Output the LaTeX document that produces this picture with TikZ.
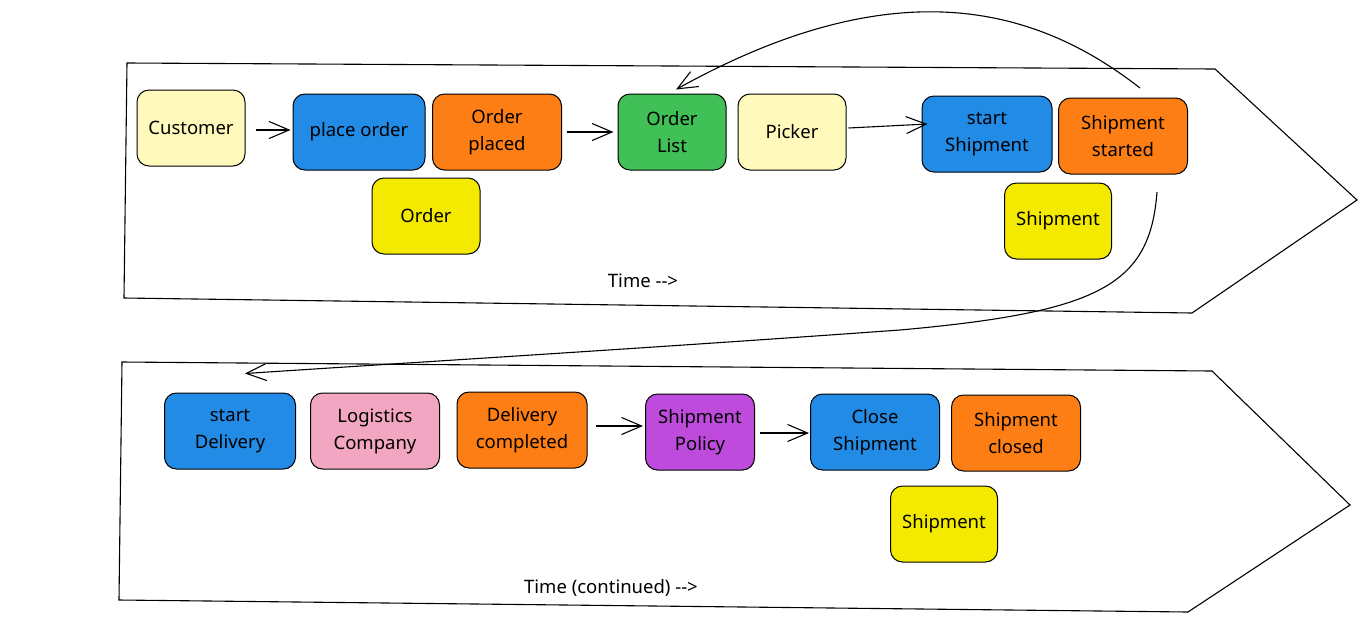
\documentclass[tikz,border=0pt]{standalone}
\usepackage{fontspec}
\setmainfont{Noto Sans}
\usetikzlibrary{arrows.meta,calc}
\definecolor{lyel}{HTML}{FFF9BB}
\definecolor{eblue}{HTML}{228BE6}
\definecolor{eorange}{HTML}{FD7E14}
\definecolor{eyel}{HTML}{F4EA00}
\definecolor{egreen}{HTML}{40C057}
\definecolor{epink}{HTML}{F3A6C1}
\definecolor{epurple}{HTML}{BE4BDB}
\newcommand{\dasharrowtext}{\mbox{-}\mbox{-}\mbox{>}}
\tikzset{
  card/.style={draw=black, line width=1pt, rounded corners=12pt, align=center,
    font=\fontsize{18.5}{27}\selectfont, inner sep=1pt},
  wide/.style={card, minimum width=130pt, minimum height=76pt},
  narrow/.style={card, minimum width=108pt, minimum height=76pt},
  lane/.style={draw=black, line width=1.1pt, line join=miter},
  flow/.style={draw=black, line width=1.1pt, -{Straight Barb[length=20pt,width=17pt,line width=1.1pt]}},
  lbl/.style={font=\fontsize{18.5}{22}\selectfont},
}
\begin{document}
\begin{tikzpicture}[x=1pt,y=-1pt]
\useasboundingbox (0,0) rectangle (1366,625);
% lanes
\draw[lane] (127,63) -- (1215,69) -- (1357,200) -- (1192,313) -- (124,298) -- cycle;
\draw[lane] (122,362) -- (1212,371) -- (1350,505) -- (1188,612) -- (119,600) -- cycle;
% top row
\node[narrow, fill=lyel] (cust) at (191,128) {Customer};
\node[wide, fill=eblue, minimum width=132pt] (place) at (359,132) {place order};
\node[wide, fill=eorange, minimum width=129pt] (oplaced) at (497,132) {Order\\placed};
\node[narrow, fill=eyel] (order) at (426,216) {Order};
\node[narrow, fill=egreen] (olist) at (672,132) {Order\\List};
\node[narrow, fill=lyel] (picker) at (792,132) {Picker};
\node[wide, fill=eblue] (sship) at (987,134) {start\\Shipment};
\node[wide, fill=eorange, minimum width=129pt] (sstart) at (1123,136) {Shipment\\started};
\node[narrow, fill=eyel, minimum width=107pt] (ship1) at (1058,221) {Shipment};
\node[lbl] (time1) at (643,281) {Time \dasharrowtext};
% bottom row
\node[wide, fill=eblue, minimum width=131pt] (sdeliv) at (230,431) {start\\Delivery};
\node[wide, fill=epink, minimum width=129pt] (logi) at (375,431) {Logistics\\Company};
\node[wide, fill=eorange] (dcomp) at (522,430) {Delivery\\completed};
\node[narrow, fill=epurple, minimum width=109pt] (spol) at (700,432) {Shipment\\Policy};
\node[wide, fill=eblue, minimum width=129pt] (cship) at (875,432) {Close\\Shipment};
\node[wide, fill=eorange, minimum width=129pt] (sclosed) at (1016,433) {Shipment\\closed};
\node[narrow, fill=eyel, minimum width=107pt] (ship2) at (944,524) {Shipment};
\node[lbl] (time2) at (611,588) {Time (continued) \dasharrowtext};
% straight connectors
\draw[flow] ($(cust.east)+(10,2)$) -- ($(place.west)+(-2,-2)$);
\draw[flow] ($(oplaced.east)+(5,0)$) -- ($(olist.west)+(-4,0)$);
\draw[flow] ($(picker.east)+(2,-4)$) -- ($(sship.west)+(6,-10)$);
\draw[flow] ($(dcomp.east)+(8,-4)$) -- ($(spol.west)+(-2,-6)$);
\draw[flow] ($(spol.east)+(5,1)$) -- ($(cship.west)+(-1,1)$);
% curved connectors
\coordinate (c1s) at (1140,88);
\coordinate (c2s) at (1157,192);
\draw[flow] (c1s) .. controls (1040,10) and (900,-35) .. ($(olist.north)+(4,-4)$);
\draw[flow] (c2s) .. controls (1150,285) and (1100,312) .. (900,330)
  .. controls (650,348) and (420,362) .. ($(sdeliv.north)+(15,-19)$);
\end{tikzpicture}
\end{document}
